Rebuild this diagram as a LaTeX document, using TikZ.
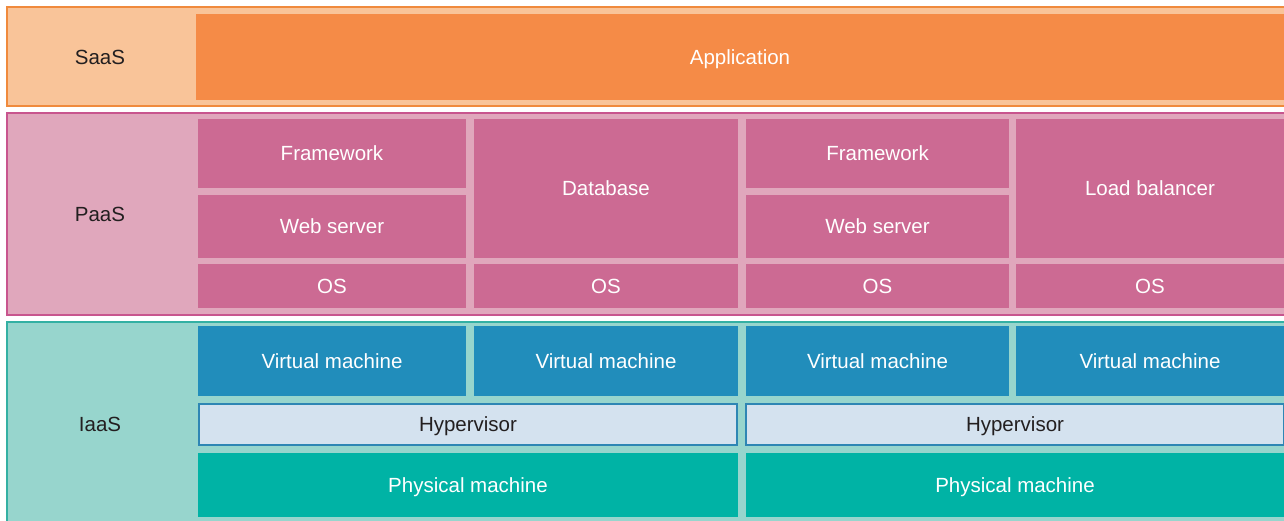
\documentclass[tikz,border=0pt]{standalone}
\usepackage{fontspec}
\setmainfont{Liberation Sans}
\definecolor{saasbg}{HTML}{F9C499}
\definecolor{saasln}{HTML}{F08A3C}
\definecolor{appc}{HTML}{F58B47}
\definecolor{paasbg}{HTML}{E0A7BC}
\definecolor{paasln}{HTML}{C8558E}
\definecolor{paasbox}{HTML}{CC6A93}
\definecolor{iaasbg}{HTML}{97D5CD}
\definecolor{iaasln}{HTML}{33B0A3}
\definecolor{vmc}{HTML}{218DBB}
\definecolor{hypbg}{HTML}{D4E2EF}
\definecolor{hypln}{HTML}{2E86B4}
\definecolor{physc}{HTML}{00B3A5}
\definecolor{dark}{HTML}{231F20}
\begin{document}
\begin{tikzpicture}[x=1pt,y=-1pt,
  every node/.style={font=\fontsize{20.5}{24}\selectfont, text height=14.7pt, text depth=0pt},
  blk/.style={rectangle, anchor=north west, inner sep=0pt, outer sep=0pt, text=white},
  band/.style={line width=1.3pt},
  lbl/.style={text=dark},
  pbox/.style={blk, fill=paasbox},
  vm/.style={blk, fill=vmc, minimum height=70pt},
  hyp/.style={blk, fill=hypbg, draw=hypln, line width=1.2pt, text=dark, minimum width=538pt, minimum height=41pt},
  phys/.style={blk, fill=physc, minimum height=64pt}]
\useasboundingbox (0,0) rectangle (1284,520);
\clip (0,0) rectangle (1284,520);
\fill[white] (0,0) rectangle (1284,520);
% bands
\draw[band, fill=saasbg, draw=saasln] (7,7) rectangle (1300,106);
\draw[band, fill=paasbg, draw=paasln] (7,113) rectangle (1300,315);
\draw[band, fill=iaasbg, draw=iaasln] (7,322) rectangle (1300,530);
\node[lbl] (saas) at (100,57) {SaaS};
\node[lbl] (paas) at (100,214) {PaaS};
\node[lbl] (iaas) at (100,424) {IaaS};
% SaaS
\node[blk, fill=appc, minimum width=1088pt, minimum height=86pt] (app) at (196,14) {Application};
% PaaS
\node[pbox, minimum width=268pt, minimum height=69pt] (fw1) at (198,119) {Framework};
\node[pbox, minimum width=268pt, minimum height=63pt] (ws1) at (198,195) {Web server};
\node[pbox, minimum width=264pt, minimum height=139pt] (db) at (474,119) {Database};
\node[pbox, minimum width=263pt, minimum height=69pt] (fw2) at (746,119) {Framework};
\node[pbox, minimum width=263pt, minimum height=63pt] (ws2) at (746,195) {Web server};
\node[pbox, minimum width=268pt, minimum height=139pt] (lb) at (1016,119) {Load balancer};
\node[pbox, minimum width=268pt, minimum height=44pt] (os1) at (198,264) {OS};
\node[pbox, minimum width=264pt, minimum height=44pt] (os2) at (474,264) {OS};
\node[pbox, minimum width=263pt, minimum height=44pt] (os3) at (746,264) {OS};
\node[pbox, minimum width=268pt, minimum height=44pt] (os4) at (1016,264) {OS};
% IaaS
\node[vm, minimum width=268pt] (vm1) at (198,326) {Virtual machine};
\node[vm, minimum width=264pt] (vm2) at (474,326) {Virtual machine};
\node[vm, minimum width=263pt] (vm3) at (746,326) {Virtual machine};
\node[vm, minimum width=268pt] (vm4) at (1016,326) {Virtual machine};
\node[hyp] (hyp1) at (199,404) {Hypervisor};
\node[hyp] (hyp2) at (746,404) {Hypervisor};
\node[phys, minimum width=540pt] (ph1) at (198,453) {Physical machine};
\node[phys, minimum width=538pt] (ph2) at (746,453) {Physical machine};
\end{tikzpicture}
\end{document}
